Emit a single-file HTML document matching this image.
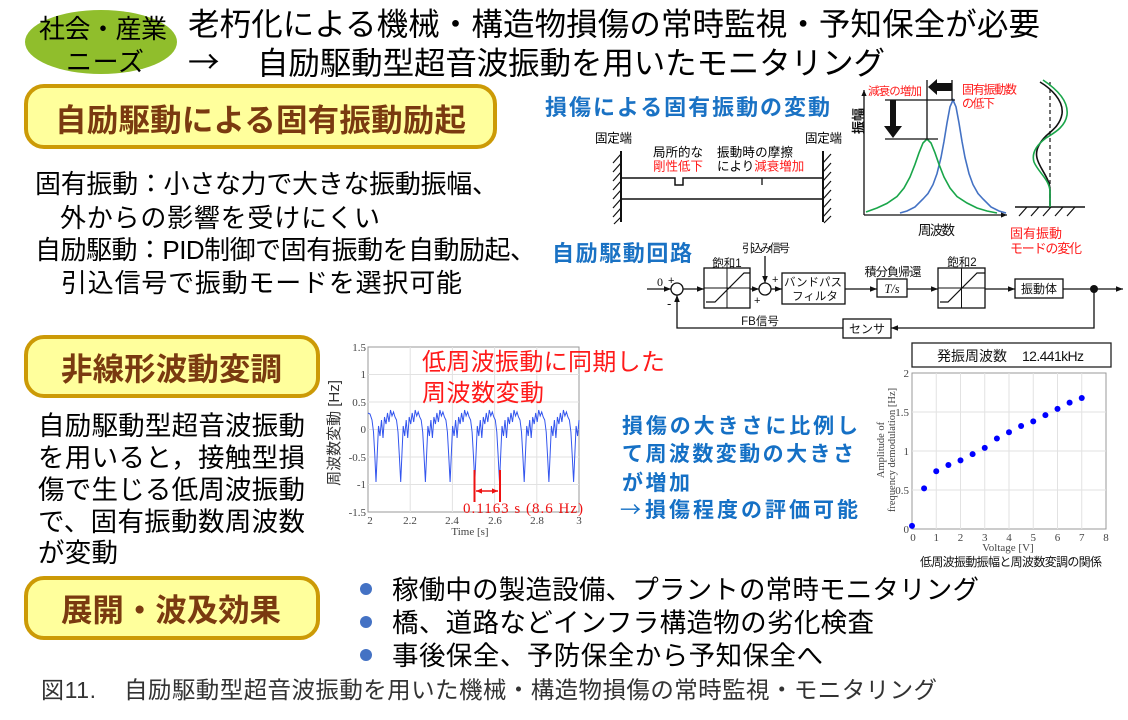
<!DOCTYPE html>
<html><head><meta charset="utf-8">
<style>
html,body{margin:0;padding:0;background:#fff;}
svg{display:block;}
.j{font-family:"Liberation Sans","Noto Sans CJK JP",sans-serif;}
.s{font-family:"Liberation Serif","Noto Serif CJK SC",serif;}
.c{font-family:"Noto Sans CJK JP","Liberation Sans",sans-serif;}
</style></head>
<body>
<svg width="1128" height="720" viewBox="0 0 1128 720" xmlns="http://www.w3.org/2000/svg">
<defs>
<marker id="ar" viewBox="0 0 8 8" markerWidth="7" markerHeight="7" refX="8" refY="4" orient="auto" markerUnits="userSpaceOnUse"><path d="M0,0.8 L8,4 L0,7.2z" fill="#111"/></marker>
<marker id="ax" viewBox="0 0 8 8" markerWidth="6" markerHeight="6" refX="8" refY="4" orient="auto" markerUnits="userSpaceOnUse"><path d="M0,0.5 L8,4 L0,7.5z" fill="#111"/></marker>
<marker id="rr" viewBox="0 0 8 8" markerWidth="6" markerHeight="6" refX="8" refY="4" orient="auto-start-reverse" markerUnits="userSpaceOnUse"><path d="M0,0.5 L8,4 L0,7.5z" fill="#ee1111"/></marker>
</defs>
<rect width="1128" height="720" fill="#fff"/>

<!-- header -->
<ellipse cx="101" cy="42" rx="76" ry="32" fill="#90be2c"/>
<text class="j" x="39" y="38" font-size="26" textLength="128" fill="#000">社会・産業</text>
<text class="j" x="66" y="71" font-size="26" textLength="78" fill="#000">ニーズ</text>
<text class="j" x="188" y="35" font-size="31.5" textLength="852" fill="#000">老朽化による機械・構造物損傷の常時監視・予知保全が必要</text>
<text class="c" x="188" y="73" font-size="31.5" fill="#000">→</text>
<text class="j" x="257" y="74" font-size="31.5" textLength="628" fill="#000">自励駆動型超音波振動を用いたモニタリング</text>

<!-- yellow boxes -->
<rect x="26" y="86" width="469" height="61" rx="18" fill="#ffff9c" stroke="#cc9a06" stroke-width="4"/>
<text class="j" x="55" y="131" font-size="31.5" font-weight="bold" textLength="411" fill="#7a3a10">自励駆動による固有振動励起</text>
<rect x="26" y="337" width="292" height="59" rx="18" fill="#ffff9c" stroke="#cc9a06" stroke-width="4"/>
<text class="j" x="61" y="380" font-size="31.5" font-weight="bold" textLength="221" fill="#7a3a10">非線形波動変調</text>
<rect x="26" y="578" width="292" height="60" rx="18" fill="#ffff9c" stroke="#cc9a06" stroke-width="4"/>
<text class="j" x="61" y="621" font-size="31.5" font-weight="bold" textLength="220" fill="#7a3a10">展開・波及効果</text>

<!-- body text 1 -->
<g class="j" font-size="26" fill="#000">
<text x="35" y="193" textLength="463">固有振動：小さな力で大きな振動振幅、</text>
<text x="60" y="227" textLength="320">外からの影響を受けにくい</text>
<text x="35" y="259" textLength="501">自励駆動：PID制御で固有振動を自動励起、</text>
<text x="61" y="292" textLength="401">引込信号で振動モードを選択可能</text>
</g>

<!-- body text 2 -->
<g class="j" font-size="26.5" fill="#000">
<text x="38" y="435" textLength="267">自励駆動型超音波振動</text>
<text x="38" y="467" textLength="267">を用いると，接触型損</text>
<text x="38" y="499" textLength="267">傷で生じる低周波振動</text>
<text x="38" y="531" textLength="267">で、固有振動数周波数</text>
<text x="38" y="562" textLength="80">が変動</text>
</g>

<!-- bullets -->
<circle cx="366" cy="589" r="6" fill="#4472c4"/>
<circle cx="366" cy="622" r="6" fill="#4472c4"/>
<circle cx="366" cy="655" r="6" fill="#4472c4"/>
<g class="j" font-size="26.5" fill="#000">
<text x="392" y="599" textLength="587">稼働中の製造設備、プラントの常時モニタリング</text>
<text x="392" y="632" textLength="482">橋、道路などインフラ構造物の劣化検査</text>
<text x="392" y="665" textLength="431">事後保全、予防保全から予知保全へ</text>
</g>

<!-- caption -->
<text class="j" x="41" y="698" font-size="23" textLength="55" fill="#333">図11.</text>
<text class="j" x="124" y="698" font-size="23.5" textLength="813" fill="#333">自励駆動型超音波振動を用いた機械・構造物損傷の常時監視・モニタリング</text>

<!-- damage title -->
<text class="j" x="545" y="115" font-size="22" font-weight="bold" textLength="285" fill="#1a72c4">損傷による固有振動の変動</text>

<!-- beam diagram -->
<g class="j" font-size="12.5" fill="#000">
<text x="595" y="142.5" textLength="37">固定端</text>
<text x="805" y="142.5" textLength="37">固定端</text>
<text x="653" y="156.5" textLength="50">局所的な</text>
<text x="653" y="170.5" textLength="50" fill="#ff1a1a">剛性低下</text>
<text x="717" y="156.5" textLength="76">振動時の摩擦</text>
<text x="717" y="170.5">により<tspan fill="#ff1a1a">減衰増加</tspan></text>
</g>
<g stroke="#111" fill="none">
<line x1="621" y1="151" x2="621" y2="222" stroke-width="2"/>
<line x1="823" y1="151" x2="823" y2="222" stroke-width="2"/>
<path d="M621 178 H675 V185 H683 V178 H823" stroke-width="1.5"/>
<line x1="762" y1="178" x2="762" y2="185" stroke-width="1.3"/>
<line x1="621" y1="199" x2="823" y2="199" stroke-width="1.5"/>
<path d="M621 154 l-8 9 M621 163 l-8 9 M621 172 l-8 9 M621 181 l-8 9 M621 190 l-8 9 M621 199 l-8 9 M621 208 l-8 9 M621 217 l-7 7" stroke-width="1.2"/>
<path d="M831 154 l-8 9 M831 163 l-8 9 M831 172 l-8 9 M831 181 l-8 9 M831 190 l-8 9 M831 199 l-8 9 M831 208 l-8 9 M831 216 l-7 7" stroke-width="1.2"/>
</g>

<!-- peaks graph -->
<g stroke="#111" fill="none" stroke-width="1.3">
<path d="M864 215 V90" marker-end="url(#ax)"/>
<path d="M864 215 H1007" marker-end="url(#ax)"/>
</g>
<polyline fill="none" stroke="#4472c4" stroke-width="1.6" points="900,213 907,211 915,207 923,199 928,193.5 933,184.6 937,173.6 941,157.5 944,141.4 947,123 950,106.8 953,100 956,106.8 959,123 962,141.4 965,157.5 969,173.6 973,184.6 978,193.5 983,199 991,207 999,211 1006,213"/>
<polyline fill="none" stroke="#1aa64a" stroke-width="1.6" points="866,212 877,208 887,203.4 897,196.5 904,188 910,177 915,164.3 919,152.8 923,143 927,139 931,143 935,152.8 939,164.3 944,177 950,188 957,196.5 967,203 977,208 987,211 997,213"/>
<g stroke="#111" stroke-width="1.3">
<line x1="885" y1="100" x2="955" y2="100"/>
<line x1="885" y1="139" x2="938" y2="139"/>
<line x1="927" y1="80" x2="927" y2="139"/>
<line x1="952" y1="80" x2="952" y2="100"/>
</g>
<rect x="890" y="100" width="6" height="27" fill="#111"/>
<path d="M884 126 L902 126 L893 138z" fill="#111"/>
<rect x="936" y="83" width="16" height="8" fill="#111"/>
<path d="M937 79 L937 95 L928 87z" fill="#111"/>
<text class="j" x="868" y="95" font-size="11.5" textLength="54" fill="#ff1a1a">減衰の増加</text>
<text class="j" x="962" y="93.5" font-size="12" textLength="55" fill="#ff1a1a">固有振動数</text>
<text class="j" x="962" y="107.5" font-size="12" textLength="33" fill="#ff1a1a">の低下</text>
<text class="j" transform="translate(863,121) rotate(-90)" text-anchor="middle" font-size="13" font-weight="bold" fill="#111">振幅</text>
<text class="j" x="918" y="235" font-size="13.5" textLength="37" fill="#111">周波数</text>

<!-- mode shape -->
<line x1="1050" y1="82" x2="1050" y2="207" stroke="#111" stroke-width="1.2" stroke-dasharray="4,3"/>
<line x1="1015" y1="207" x2="1085" y2="207" stroke="#111" stroke-width="1.6"/>
<path d="M1027 207 l-8 9 M1039 207 l-8 9 M1051 207 l-8 9 M1063 207 l-8 9 M1075 207 l-8 9" stroke="#111" stroke-width="1.2"/>
<path d="M1040 82 C1050 88,1064 100,1062 114 C1060 126,1050 132,1046 136 C1040 142,1035 150,1037 158 C1039 168,1050 178,1050 190 L1050 207" fill="none" stroke="#111" stroke-width="1.6"/>
<path d="M1043 80 C1055 88,1069 100,1067 115 C1065 128,1052 134,1046 138 C1038 144,1031 152,1034 162 C1038 172,1050 180,1050 192 L1050 207" fill="none" stroke="#1aa64a" stroke-width="1.6"/>
<text class="j" x="1010" y="238" font-size="13" textLength="52" fill="#ff1a1a">固有振動</text>
<text class="j" x="1010" y="253" font-size="13" textLength="72" fill="#ff1a1a">モードの変化</text>

<!-- circuit title -->
<text class="j" x="552" y="261" font-size="22" font-weight="bold" textLength="140" fill="#1a72c4">自励駆動回路</text>

<!-- block diagram -->
<g stroke="#111" stroke-width="1.3" fill="none">
<path d="M647 289 H671" marker-end="url(#ar)"/>
<circle cx="677" cy="289" r="6" fill="#fff"/>
<path d="M683 289 H704" marker-end="url(#ar)"/>
<rect x="704" y="268" width="46" height="40" fill="#fff"/>
<line x1="727" y1="268" x2="727" y2="308" stroke-width="1"/>
<line x1="704" y1="288" x2="750" y2="288" stroke-width="1"/>
<path d="M706 302 H715 L744 273 H750" stroke-width="1.2"/>
<path d="M750 289 H759" marker-end="url(#ar)"/>
<circle cx="765" cy="289" r="6" fill="#fff"/>
<path d="M765 256 V283" marker-end="url(#ar)"/>
<path d="M771 289 H782" marker-end="url(#ar)"/>
<rect x="782" y="273" width="63" height="31" fill="#fff"/>
<path d="M845 289 H877" marker-end="url(#ar)"/>
<rect x="877" y="279" width="30" height="18" fill="#fff"/>
<path d="M907 289 H938" marker-end="url(#ar)"/>
<rect x="938" y="268" width="47" height="40" fill="#fff"/>
<line x1="961.5" y1="268" x2="961.5" y2="308" stroke-width="1"/>
<line x1="938" y1="288" x2="985" y2="288" stroke-width="1"/>
<path d="M940 302 H948 L977 273 H985" stroke-width="1.2"/>
<path d="M985 289 H1015" marker-end="url(#ar)"/>
<rect x="1015" y="279" width="48" height="19" fill="#fff"/>
<path d="M1063 289 H1123" marker-end="url(#ar)"/>
<path d="M1094 289 V328 H891" marker-end="url(#ar)"/>
<rect x="843" y="319" width="48" height="19" fill="#fff"/>
<path d="M843 328 H677 V295" marker-end="url(#ar)"/>
</g>
<circle cx="1094" cy="289" r="4" fill="#111"/>
<g class="j" font-size="11.5" fill="#111">
<text class="s" x="657" y="286" font-size="12">0</text>
<text x="668" y="284" font-size="11">+</text>
<text x="667" y="308" font-size="13">-</text>
<text x="727" y="267" text-anchor="middle">飽和1</text>
<text x="766" y="252" text-anchor="middle" textLength="48">引込み信号</text>
<text x="772" y="283" font-size="11">+</text>
<text x="754" y="304" font-size="11">+</text>
<text x="813" y="286" text-anchor="middle">バンドパス</text>
<text x="815" y="300" text-anchor="middle">フィルタ</text>
<text x="893" y="276" text-anchor="middle" font-size="12" textLength="57">積分負帰還</text>
<text class="s" x="892" y="293" text-anchor="middle" font-size="12.5" font-style="italic">T/s</text>
<text x="962" y="266" text-anchor="middle">飽和2</text>
<text x="1039" y="293" text-anchor="middle" font-size="12">振動体</text>
<text x="867" y="333" text-anchor="middle" font-size="12">センサ</text>
<text x="760" y="325" text-anchor="middle" font-size="11.5">FB信号</text>
</g>

<!-- time plot -->
<rect x="368" y="347" width="211" height="165" fill="#fff" stroke="#999" stroke-width="1"/>
<g stroke="#e2e2e2" stroke-width="1">
<line x1="410.2" y1="347" x2="410.2" y2="512"/><line x1="452.4" y1="347" x2="452.4" y2="512"/>
<line x1="494.6" y1="347" x2="494.6" y2="512"/><line x1="536.8" y1="347" x2="536.8" y2="512"/>
<line x1="368" y1="374.5" x2="579" y2="374.5"/><line x1="368" y1="402" x2="579" y2="402"/>
<line x1="368" y1="429.5" x2="579" y2="429.5"/><line x1="368" y1="457" x2="579" y2="457"/>
<line x1="368" y1="484.5" x2="579" y2="484.5"/>
</g>
<g class="s" font-size="11" fill="#444" text-anchor="end">
<text x="366" y="351">1.5</text><text x="366" y="378">1</text><text x="366" y="406">0.5</text>
<text x="366" y="433">0</text><text x="366" y="461">-0.5</text><text x="366" y="488">-1</text><text x="366" y="516">-1.5</text>
</g>
<g class="s" font-size="11" fill="#444" text-anchor="middle">
<text x="370" y="524">2</text><text x="410" y="524">2.2</text><text x="452" y="524">2.4</text>
<text x="495" y="524">2.6</text><text x="537" y="524">2.8</text><text x="579" y="524">3</text>
<text x="470" y="535">Time   [s]</text>
</g>
<text class="j" transform="translate(339,433) rotate(-90)" text-anchor="middle" font-size="15" fill="#333">周波数変動  [Hz]</text>
<polyline fill="none" stroke="#3355ee" stroke-width="1" points="368,413 370,414 372,420 373.5,432 374.8,455 376,482 377.2,455 378.5,426 380,436 381.5,420 383,438 384.5,417 386,424 387.5,413 389,422 390.5,410 392,416 393.5,412 395,417 396.5,420 398,432 399.3,455 400.7,482 401.9,455 403.2,426 404.7,436 406.2,420 407.7,438 409.2,417 410.7,424 412.2,413 413.7,422 415.2,410 416.7,416 418.2,412 419.7,417 421.2,420 422.7,432 424,455 425.4,482 426.6,455 427.9,426 429.4,436 430.9,420 432.4,438 433.9,417 435.4,424 436.9,413 438.4,422 439.9,410 441.4,416 442.9,412 444.4,417 445.9,420 447.4,432 448.7,455 450.1,482 451.3,455 452.6,426 454.1,436 455.6,420 457.1,438 458.6,417 460.1,424 461.6,413 463.1,422 464.6,410 466.1,416 467.6,412 469.1,417 470.6,420 472.1,432 473.4,455 474.8,482 476,455 477.3,426 478.8,436 480.3,420 481.8,438 483.3,417 484.8,424 486.3,413 487.8,422 489.3,410 490.8,416 492.3,412 493.8,417 495.3,420 496.8,432 498.1,455 499.5,482 500.7,455 502,426 503.5,436 505,420 506.5,438 508,417 509.5,424 511,413 512.5,422 514,410 515.5,416 517,412 518.5,417 520,420 521.5,432 522.8,455 524.2,482 525.4,455 526.7,426 528.2,436 529.7,420 531.2,438 532.7,417 534.2,424 535.7,413 537.2,422 538.7,410 540.2,416 541.7,412 543.2,417 544.7,420 546.2,432 547.5,455 548.9,482 550.1,455 551.4,426 552.9,436 554.4,420 555.9,438 557.4,417 558.9,424 560.4,413 561.9,422 563.4,410 564.9,416 566.4,412 567.9,417 569.4,420 570.9,432 572.2,455 573.6,482 574.8,455 576.1,426 577.6,436 579,420"/>
<g stroke="#ee1111" stroke-width="2">
<line x1="474.5" y1="470" x2="474.5" y2="502"/>
<line x1="500" y1="470" x2="500" y2="502"/>
<path d="M476 491 H498" stroke-width="1.5" marker-start="url(#rr)" marker-end="url(#rr)"/>
</g>
<text class="s" x="463" y="513" font-size="15" textLength="120" fill="#ee1111">0.1163 s  (8.6 Hz)</text>
<text class="j" x="422" y="370" font-size="24" textLength="243" fill="#ff1a1a">低周波振動に同期した</text>
<text class="j" x="422" y="401" font-size="24" textLength="122" fill="#ff1a1a">周波数変動</text>

<!-- blue paragraph -->
<g class="j" font-size="21" font-weight="bold" fill="#1570c5">
<text x="622" y="433" textLength="236">損傷の大きさに比例し</text>
<text x="622" y="461" textLength="232">て周波数変動の大きさ</text>
<text x="622" y="490" textLength="68">が増加</text>
<text class="c" x="620" y="517" font-weight="normal">→</text>
<text x="645" y="517" textLength="213">損傷程度の評価可能</text>
</g>

<!-- scatter plot -->
<rect x="912" y="343" width="199" height="24" fill="#fff" stroke="#222" stroke-width="1.3"/>
<text class="j" x="937" y="361" font-size="14" textLength="70" fill="#111">発振周波数</text>
<text class="j" x="1022" y="361" font-size="14" textLength="62" fill="#111">12.441kHz</text>
<rect x="912" y="373" width="194" height="156" fill="#fff" stroke="#999" stroke-width="1"/>
<g stroke="#e2e2e2" stroke-width="1">
<line x1="936.25" y1="373" x2="936.25" y2="529"/><line x1="960.5" y1="373" x2="960.5" y2="529"/>
<line x1="984.75" y1="373" x2="984.75" y2="529"/><line x1="1009" y1="373" x2="1009" y2="529"/>
<line x1="1033.25" y1="373" x2="1033.25" y2="529"/><line x1="1057.5" y1="373" x2="1057.5" y2="529"/>
<line x1="1081.75" y1="373" x2="1081.75" y2="529"/>
<line x1="912" y1="412" x2="1106" y2="412"/><line x1="912" y1="451" x2="1106" y2="451"/>
<line x1="912" y1="490" x2="1106" y2="490"/>
</g>
<g class="s" font-size="11" fill="#444" text-anchor="end">
<text x="909" y="377">2</text><text x="909" y="416">1.5</text><text x="909" y="455">1</text>
<text x="909" y="494">0.5</text><text x="909" y="533">0</text>
</g>
<g class="s" font-size="11" fill="#444" text-anchor="middle">
<text x="913" y="541">0</text><text x="936.25" y="541">1</text><text x="960.5" y="541">2</text>
<text x="984.75" y="541">3</text><text x="1009" y="541">4</text><text x="1033.25" y="541">5</text>
<text x="1057.5" y="541">6</text><text x="1081.75" y="541">7</text><text x="1106" y="541">8</text>
<text x="1008" y="551">Voltage   [V]</text>
</g>
<text class="s" transform="translate(884,450) rotate(-90)" text-anchor="middle" font-size="10.5" fill="#444">Amplitude of</text>
<text class="s" transform="translate(895,450) rotate(-90)" text-anchor="middle" font-size="10.5" fill="#444">frequency demodulation  [Hz]</text>
<g fill="#0000ff">
<circle cx="912" cy="525.9" r="3"/><circle cx="924.1" cy="488.4" r="3"/><circle cx="936.25" cy="471.3" r="3"/>
<circle cx="948.4" cy="465" r="3"/><circle cx="960.5" cy="460.4" r="3"/><circle cx="972.6" cy="454.1" r="3"/>
<circle cx="984.75" cy="447.9" r="3"/><circle cx="996.9" cy="438.5" r="3"/><circle cx="1009" cy="432.3" r="3"/>
<circle cx="1021.1" cy="426" r="3"/><circle cx="1033.25" cy="421.4" r="3"/><circle cx="1045.4" cy="415.1" r="3"/>
<circle cx="1057.5" cy="408.9" r="3"/><circle cx="1069.6" cy="402.6" r="3"/><circle cx="1081.75" cy="398" r="3"/>
</g>
<text class="j" x="920" y="566" font-size="12" textLength="182" fill="#111">低周波振動振幅と周波数変調の関係</text>
</svg>
</body></html>
